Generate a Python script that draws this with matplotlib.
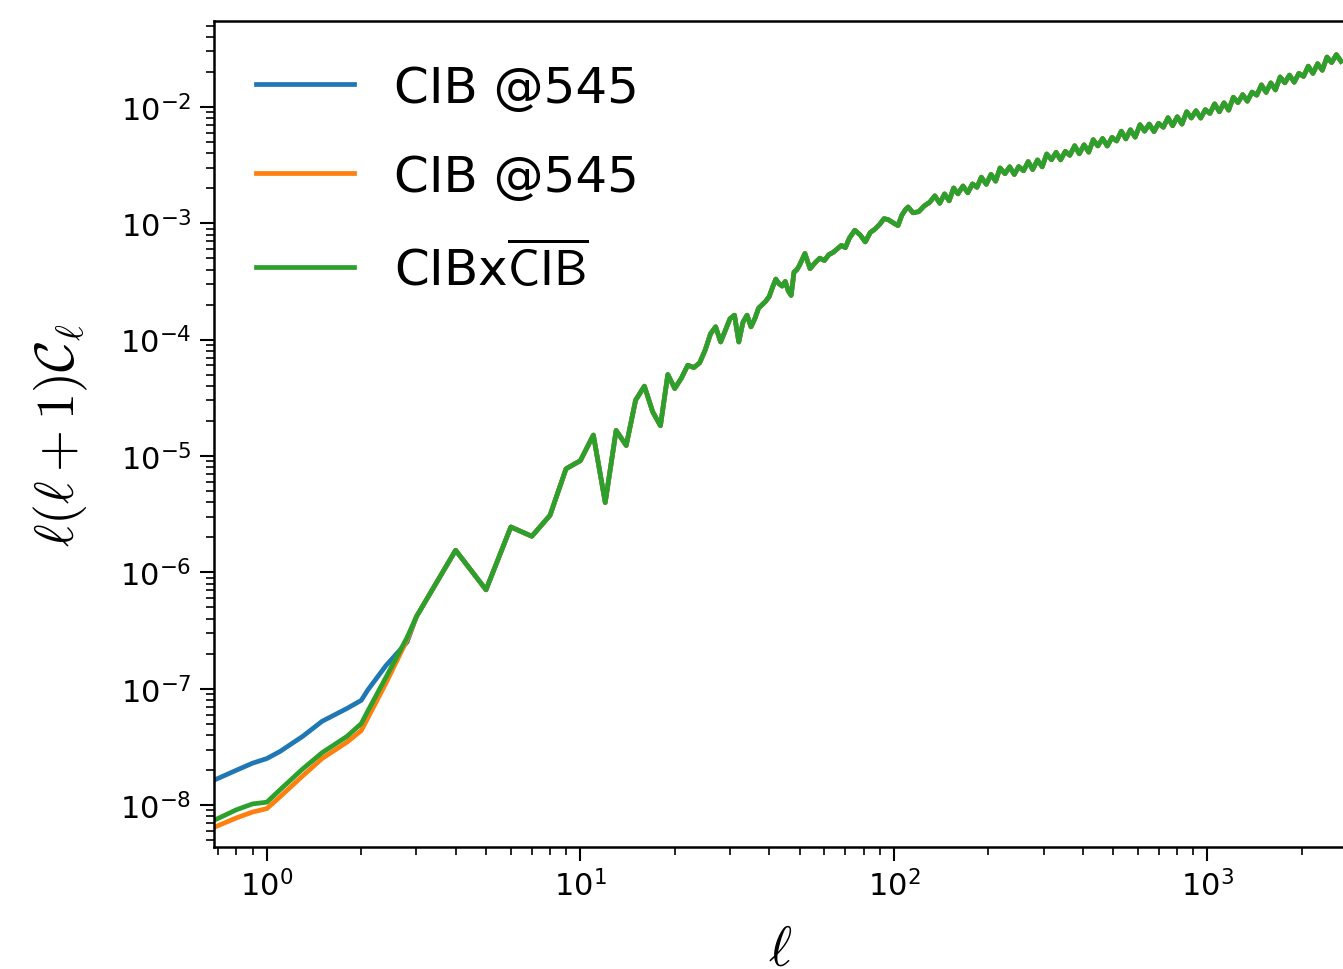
import numpy as np
import matplotlib
matplotlib.use('Agg')
import matplotlib.pyplot as plt

plt.rcParams['mathtext.fontset'] = 'cm'

# espectros a multipolos bajos (distintos para cada mapa)
ell_bajo = [0.68, 0.8, 0.9, 1.0, 1.1, 1.3, 1.5, 1.8, 2.0, 2.1, 2.4, 2.8]
log_cib1_bajo = [-7.785, -7.70, -7.64, -7.60, -7.54, -7.41, -7.28, -7.17, -7.10, -7.01, -6.80, -6.60]
log_cib2_bajo = [-8.19, -8.11, -8.06, -8.03, -7.93, -7.75, -7.60, -7.46, -7.36, -7.25, -6.95, -6.58]
log_cruz_bajo = [-8.13, -8.04, -7.99, -7.975, -7.87, -7.69, -7.55, -7.41, -7.30, -7.19, -6.90, -6.56]

# a partir de l=3 los tres espectros coinciden
ell_alto = [3, 4, 5, 6, 7, 8, 9, 10, 11, 12, 13, 14, 15, 16, 17, 18, 19, 20,
            21, 22, 23, 24, 25, 26, 27, 28, 29, 30, 31, 32, 33, 34, 35, 36, 37, 38,
            39, 40, 41, 42, 43, 44, 45, 46, 47, 48, 49, 50, 52, 54, 56, 58, 60, 62,
            64, 66, 68, 70, 72, 75, 78, 81, 84, 87, 90, 93, 96, 100, 103, 106, 109,
            111, 115, 120, 125, 130,
            135, 140, 145, 150, 155, 160, 166, 172, 178, 184, 190, 197, 204, 211,
            218, 226, 234, 242, 250, 259, 268, 277, 287, 297, 307, 318, 329, 340,
            352, 364, 377, 390, 404, 418, 432, 447, 463, 479, 496, 513, 531, 549,
            568, 588, 609, 630, 652, 675, 698, 723, 748, 774, 801, 829, 858, 888,
            919, 951, 984, 1018, 1054, 1091, 1129, 1168, 1209, 1251, 1295, 1340,
            1387, 1436, 1486, 1538, 1592, 1647, 1705, 1765, 1826, 1890, 1956, 2025,
            2096, 2169, 2245, 2323, 2405, 2489, 2576, 2666]
log_cl_alto = [-6.38, -5.81, -6.15, -5.61, -5.69, -5.51, -5.11, -5.04, -4.82, -5.40,
               -4.78, -4.91, -4.52, -4.40, -4.62, -4.74, -4.30, -4.42, -4.33, -4.22,
               -4.24, -4.20, -4.09, -3.95, -3.89, -4.02, -3.92, -3.82, -3.79, -4.02,
               -3.85, -3.79, -3.89, -3.82, -3.73, -3.70, -3.67, -3.63, -3.55, -3.48,
               -3.52, -3.54, -3.50, -3.58, -3.62, -3.42, -3.40, -3.36, -3.26, -3.39,
               -3.34, -3.30, -3.32, -3.27, -3.25, -3.22, -3.19, -3.21, -3.13, -3.06,
               -3.10, -3.16, -3.08, -3.05, -3.01, -2.96, -2.97, -3.00, -3.02, -2.93,
               -2.88, -2.86, -2.91, -2.90, -2.85, -2.82,
               -2.764, -2.828, -2.748, -2.807, -2.697, -2.747, -2.680, -2.738, -2.662,
               -2.691, -2.604, -2.665, -2.580, -2.638, -2.525, -2.574, -2.515, -2.581,
               -2.513, -2.549, -2.470, -2.538, -2.456, -2.515, -2.405, -2.454, -2.391,
               -2.455, -2.382, -2.416, -2.334, -2.403, -2.326, -2.389, -2.282, -2.335,
               -2.272, -2.336, -2.262, -2.293, -2.209, -2.275, -2.197, -2.260, -2.153,
               -2.208, -2.148, -2.212, -2.141, -2.175, -2.093, -2.162, -2.085, -2.148,
               -2.042, -2.095, -2.033, -2.096, -2.024, -2.056, -1.974, -2.042, -1.965,
               -2.028, -1.917, -1.963, -1.895, -1.951, -1.873, -1.899, -1.811, -1.875,
               -1.794, -1.854, -1.743, -1.793, -1.727, -1.788, -1.712, -1.738, -1.650,
               -1.712, -1.629, -1.685, -1.572, -1.619, -1.551, -1.608]

etiquetas = ['CIB @545', 'CIB @545', r'CIBx$\overline{\mathsf{CIB}}$']

ell = np.array(ell_bajo + ell_alto)
cib1 = 10**np.array(log_cib1_bajo + log_cl_alto)
cib2 = 10**np.array(log_cib2_bajo + log_cl_alto)
cruz = 10**np.array(log_cruz_bajo + log_cl_alto)

fig = plt.figure(figsize=(13.43, 9.70), dpi=100)
ax = fig.add_axes([0.1593, 0.1258, 0.843, 0.8515])

ax.loglog(ell, cib1, color='tab:blue', lw=3.4, label=etiquetas[0])
ax.loglog(ell, cib2, color='tab:orange', lw=3.4, label=etiquetas[1])
ax.loglog(ell, cruz, color='tab:green', lw=3.4, label=etiquetas[2])

ax.set_xlim(0.678, 2767)
ax.set_ylim(10**-8.36, 10**-1.262)

# etiquetas de los ejes
ax.set_xlabel(r'$\ell$', fontsize=40, labelpad=15)
ax.set_ylabel(r'$\ell(\ell+1)\mathcal{C}_\ell$', fontsize=39, labelpad=22)

for s in ax.spines.values():
    s.set_linewidth(1.8)
ax.tick_params(which='major', length=10, width=1.5, labelsize=22, pad=6)
ax.tick_params(which='minor', length=6, width=1.2)

ax.legend(loc='upper left', fontsize=36, frameon=False,
          labelspacing=0.82, borderaxespad=0.45, handlelength=1.95)

plt.savefig('out.png', dpi=100)
